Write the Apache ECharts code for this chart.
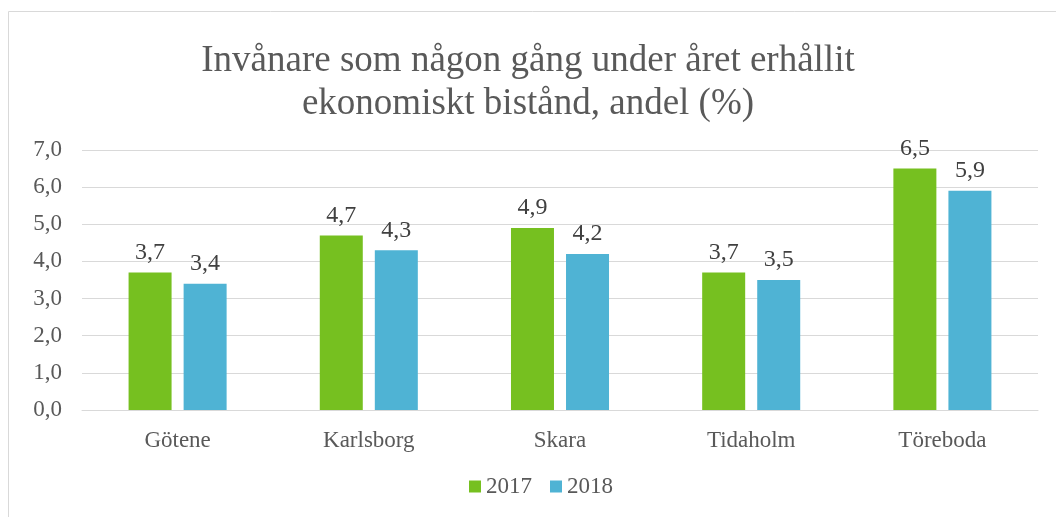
<!DOCTYPE html>
<html>
<head>
<meta charset="utf-8">
<style>
  html, body { margin: 0; padding: 0; background: #fff; }
  #chart { width: 1056px; height: 517px; }
</style>
<script src="https://cdn.jsdelivr.net/npm/echarts@6/dist/echarts.min.js"></script>
</head>
<body>
<div id="chart"></div>
<script>
// data
const categories = ['Götene', 'Karlsborg', 'Skara', 'Tidaholm', 'Töreboda']
const values2017 = [3.7, 4.7, 4.9, 3.7, 6.5]
const values2018 = [3.4, 4.3, 4.2, 3.5, 5.9]
const yTicks = [0, 1, 2, 3, 4, 5, 6, 7]

const font = '"Liberation Serif", "Times New Roman", serif'
const textColor = '#595959'
const comma = v => v.toFixed(1).replace('.', ',')

const chart = echarts.init(document.getElementById('chart'))

function barSeries(name, data, color) {
  return {
    name: name,
    type: 'bar',
    data: data,
    barWidth: 43,
    barGap: '28%',
    itemStyle: { color: color },
    label: {
      show: true,
      position: 'top',
      distance: 8,
      fontFamily: font,
      fontSize: 24,
      color: '#404040',
      formatter: p => comma(p.value)
    }
  }
}

chart.setOption({
  animation: false,
  textStyle: { fontFamily: font },
  graphic: [{
    type: 'rect',
    shape: { x: 8.5, y: 11.5, width: 1200, height: 700 },
    style: { fill: 'none', stroke: '#d9d9d9', lineWidth: 1 },
    silent: true
  }],
  title: {
    text: 'Invånare som någon gång under året erhållit\nekonomiskt bistånd, andel (%)',
    left: 'center',
    top: 35,
    textStyle: {
      fontFamily: font,
      fontSize: 37,
      fontWeight: 'normal',
      color: textColor,
      lineHeight: 43
    }
  },
  legend: {
    bottom: 14,
    left: 464,
    itemWidth: 12,
    itemHeight: 12,
    itemGap: 18,
    icon: 'rect',
    textStyle: { fontFamily: font, fontSize: 23, color: textColor },
    data: ['2017', '2018']
  },
  grid: { left: 82, right: 18, top: 150, bottom: 107 },
  xAxis: {
    type: 'category',
    data: categories,
    axisTick: { show: false },
    axisLine: { lineStyle: { color: '#d9d9d9', width: 1 } },
    axisLabel: { fontFamily: font, fontSize: 23, color: textColor, margin: 19 }
  },
  yAxis: {
    type: 'value',
    min: yTicks[0],
    max: yTicks[yTicks.length - 1],
    interval: 1,
    axisLine: { show: false },
    axisTick: { show: false },
    splitLine: { lineStyle: { color: '#d9d9d9', width: 1 } },
    axisLabel: { fontFamily: font, fontSize: 23, color: textColor, margin: 20, formatter: v => comma(v) }
  },
  series: [
    barSeries('2017', values2017, '#76c020'),
    barSeries('2018', values2018, '#4fb3d4')
  ]
})
</script>
</body>
</html>
